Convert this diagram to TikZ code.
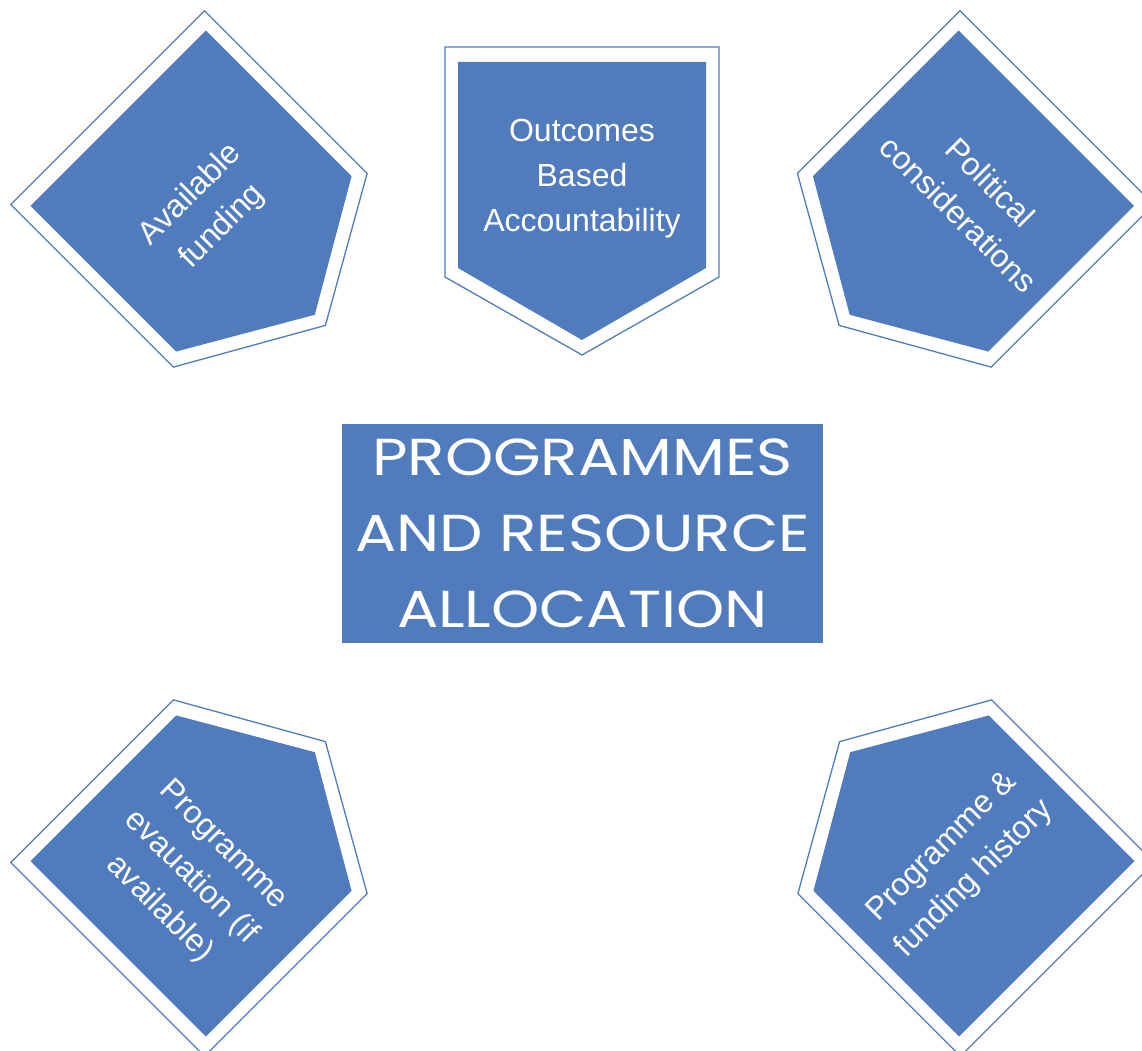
\documentclass[tikz,border=0pt]{standalone}
\usepackage{fontspec}
\setmainfont{Liberation Sans}
\newfontfamily\titlefont[FakeStretch=1.18]{Poppins}
\definecolor{plateblue}{HTML}{507CBE}
\tikzset{
  plate outline/.style={draw=plateblue, line width=1.3pt, fill=white},
  plate fill/.style={fill=plateblue, draw=none},
  plate text/.style={text=white, align=center, font=\fontsize{32}{45}\selectfont},
  title box/.style={fill=plateblue, text=white, align=center, minimum width=481pt, minimum height=219pt,
    inner sep=0pt, font=\titlefont\fontsize{52}{76}\selectfont}
}

\begin{document}
\begin{tikzpicture}[x=1pt,y=1pt]
  \useasboundingbox (0,0) rectangle (1142,1050);
  \clip (0,0) rectangle (1142,1050);

  % five plates round the centre, text kept readable
  \foreach \cx/\cy/\rot/\trot/\ox/\oy/\name/\txt in {
      582/849/0/0/0/22/oba/{Outcomes\\Based\\Accountability},
      216.5/833.5/45/45/-3/11/funding/{Available\\funding},
      948/833.5/-45/-45/6/32/political/{Political\\considerations},
      216.5/199.5/135/-45/-1/37/evaluation/{Programme\\evauation (if\\available)},
      948.5/199.5/-135/45/2/16/history/{Programme \&\\funding history}} {
    \begin{scope}[shift={(\cx,\cy)}, rotate=\rot]
      \path[plate outline] (-137,154) -- (137,154) -- (137,-76) -- (0,-154) -- (-137,-76) -- cycle;
      \path[plate fill] (-124,139) -- (124,139) -- (124,-67) -- (0,-139) -- (-124,-67) -- cycle;
      \node[plate text, rotate=\trot] (\name) at (\ox,\oy) {\txt};
    \end{scope}
  }

  \node[title box] (title) at (582.5,516.5) {PROGRAMMES\\AND RESOURCE\\ALLOCATION};
\end{tikzpicture}
\end{document}
